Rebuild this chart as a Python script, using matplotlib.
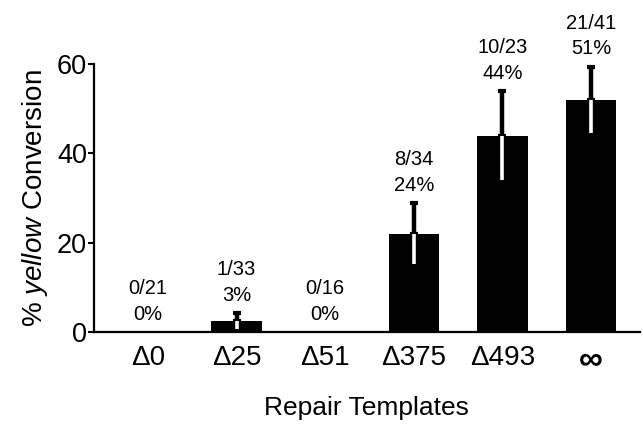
import matplotlib
matplotlib.use("Agg")
import matplotlib.pyplot as plt
import numpy as np

plt.rcParams['font.family'] = ['Liberation Sans', 'DejaVu Sans']
plt.rcParams['mathtext.fontset'] = 'custom'
plt.rcParams['mathtext.rm'] = 'Liberation Sans'
plt.rcParams['mathtext.it'] = 'Liberation Sans:italic'

categories = ["\u03940", "\u039425", "\u039451", "\u0394375", "\u0394493", "\u221e"]
values = [0, 2.5, 0, 22, 44, 52]
err = [0, 1.8, 0, 6.8, 10, 7.4]
counts = ["0/21", "1/33", "0/16", "8/34", "10/23", "21/41"]
percents = ["0%", "3%", "0%", "24%", "44%", "51%"]

fig = plt.figure(figsize=(6.43, 4.33), dpi=100)
ax = fig.add_axes([0.146, 0.233, 0.849, 0.619])

x = np.arange(len(categories))
ax.bar(x, values, width=0.57, color='black', zorder=2)

for xi, v, e in zip(x, values, err):
    if e > 0:
        ax.errorbar(xi, v, yerr=[[0], [e]], fmt='none', ecolor='black',
                    elinewidth=3.2, capsize=3.2, capthick=3, zorder=3)
        ax.errorbar(xi, v, yerr=[[e], [0]], fmt='none', ecolor='white',
                    elinewidth=2.6, capsize=0, zorder=3)

for xi, v, e, c, p in zip(x, values, err, counts, percents):
    ax.annotate(c + "\n" + p, xy=(xi, v + e), xytext=(0, 6),
                textcoords='offset points', ha='center', va='bottom',
                fontsize=14.5, linespacing=1.45)

ax.set_xlim(-0.61, 5.55)
ax.set_ylim(0, 60)
ax.set_yticks([0, 20, 40, 60])
ax.set_xticks(x)
ax.set_xticklabels(categories, fontsize=20)
ax.get_xticklabels()[-1].set_fontsize(24)
ax.get_xticklabels()[-1].set_fontweight('bold')
ax.tick_params(axis='y', labelsize=19.5, length=4, width=1.5, pad=1, direction='out')
ax.tick_params(axis='x', length=0, pad=9)

for s in ['top', 'right']:
    ax.spines[s].set_visible(False)
for s in ['left', 'bottom']:
    ax.spines[s].set_linewidth(1.6)

ax.set_ylabel("% $\\it{yellow}$ Conversion", fontsize=20, labelpad=5)
ax.set_xlabel("Repair Templates", fontsize=19)
ax.xaxis.set_label_coords(0.5, -0.24)

fig.savefig("out.png", dpi=100)
